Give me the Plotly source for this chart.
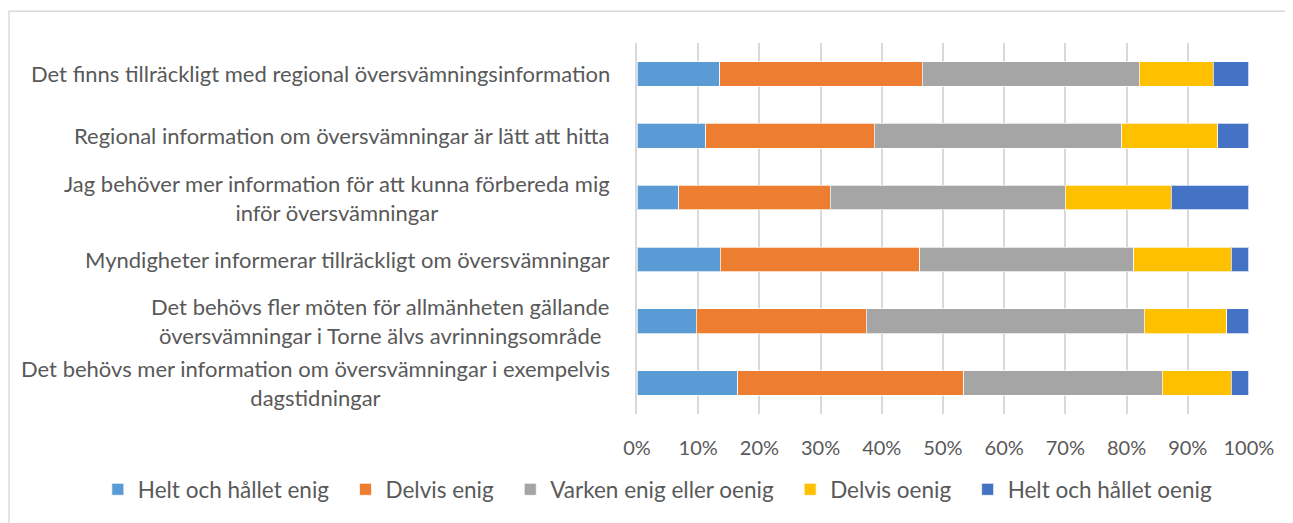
import plotly.graph_objects as go

# survey statements (top to bottom)
statements = [
    "Det finns tillräckligt med regional översvämningsinformation",
    "Regional information om översvämningar är lätt att hitta",
    "Jag behöver mer information för att kunna förbereda mig<br>inför översvämningar",
    "Myndigheter informerar tillräckligt om översvämningar",
    "Det behövs fler möten för allmänheten gällande<br>översvämningar i Torne älvs avrinningsområde",
    "Det behövs mer information om översvämningar i exempelvis<br>dagstidningar",
]
row_ids = ["s1", "s2", "s3", "s4", "s5", "s6"]

# shares per answer, same order as statements
helt_enig = [0.135, 0.112, 0.068, 0.136, 0.097, 0.165]
delvis_enig = [0.331, 0.276, 0.248, 0.326, 0.278, 0.369]
varken = [0.355, 0.404, 0.384, 0.350, 0.454, 0.324]
delvis_oenig = [0.121, 0.157, 0.173, 0.159, 0.135, 0.113]
helt_oenig = [0.058, 0.051, 0.127, 0.029, 0.036, 0.029]

answers = [
    ("Helt och hållet enig", helt_enig, "#5B9BD5"),
    ("Delvis enig", delvis_enig, "#ED7D31"),
    ("Varken enig eller oenig", varken, "#A5A5A5"),
    ("Delvis oenig", delvis_oenig, "#FFC000"),
    ("Helt och hållet oenig", helt_oenig, "#4472C4"),
]

tick_vals = [i / 10 for i in range(11)]
tick_text = [f"{i * 10}%" for i in range(11)]

FONT = "Lato"
GREY_TEXT = "#595959"
LEGEND_PAD = "\u00a0\u00a0"  # a bit more room between legend entries

fig = go.Figure()
for name, vals, color in answers:
    fig.add_trace(
        go.Bar(
            x=vals,
            y=row_ids,
            name=name + LEGEND_PAD,
            orientation="h",
            marker=dict(color=color, line=dict(color="rgba(255,255,255,0.7)", width=1)),
        )
    )

# category labels as annotations so wrapped lines are centred like the original
for rid, label in zip(row_ids, statements):
    fig.add_annotation(
        x=-0.041,
        y=rid,
        xref="paper",
        yref="y",
        text=label,
        showarrow=False,
        xanchor="right",
        align="center",
        font=dict(family=FONT, size=22, color=GREY_TEXT),
    )

# outer chart border
fig.add_shape(
    type="rect",
    xref="paper",
    yref="paper",
    x0=-1.026,
    x1=1.082,
    y0=-0.4,
    y1=1.0856,
    line=dict(color="#d9d9d9", width=1.5),
    fillcolor="rgba(0,0,0,0)",
    layer="below",
)

# page body adds ~8px offset, so the figure is a bit smaller than the window
fig.update_layout(
    barmode="stack",
    bargap=0.6,
    width=1285,
    height=515,
    margin=dict(l=629, r=44, t=35, b=106),
    paper_bgcolor="white",
    plot_bgcolor="white",
    font=dict(family=FONT, size=20, color=GREY_TEXT),
    showlegend=True,
    legend=dict(
        orientation="h",
        xref="paper",
        yref="paper",
        x=-0.881,
        xanchor="left",
        y=-0.262,
        yanchor="bottom",  # bottom anchor keeps the legend from pushing the margin
        font=dict(family=FONT, size=22.5, color=GREY_TEXT),
        traceorder="normal",
    ),
    xaxis=dict(
        range=[0, 1.0001],
        tickvals=tick_vals,
        ticktext=tick_text,
        showgrid=True,
        gridcolor="#d9d9d9",
        gridwidth=1.5,
        zeroline=False,
        showline=False,
        ticklabelstandoff=20,
        tickfont=dict(family=FONT, size=20, color=GREY_TEXT),
        automargin=False,
        fixedrange=True,
    ),
    yaxis=dict(
        categoryorder="array",
        categoryarray=row_ids,
        autorange="reversed",
        showticklabels=False,
        showgrid=False,
        zeroline=False,
        showline=True,
        linecolor="#d9d9d9",
        linewidth=1.5,
        automargin=False,
        fixedrange=True,
    ),
)

fig.write_html("out.html")
